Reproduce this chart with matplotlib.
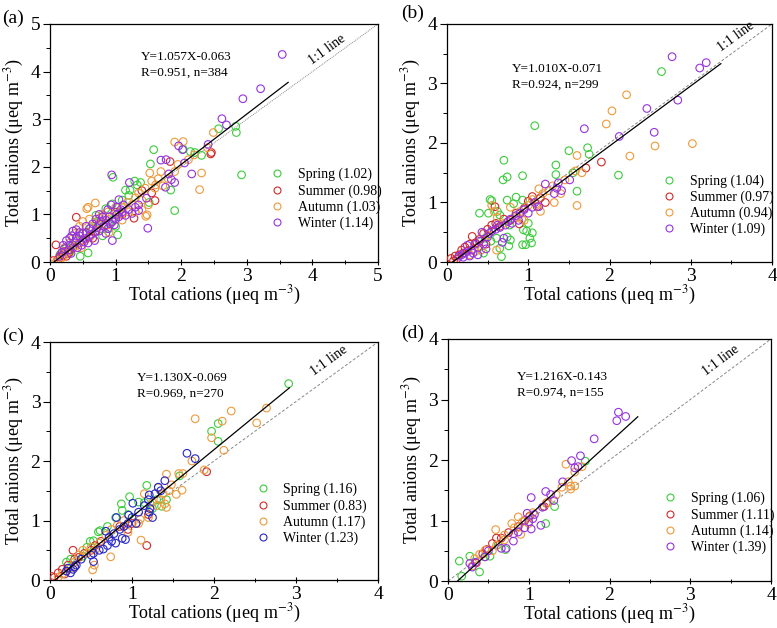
import numpy as np
import matplotlib.pyplot as plt
from matplotlib.lines import Line2D

plt.rcParams['font.family'] = ['Liberation Serif', 'DejaVu Serif']
plt.rcParams['mathtext.fontset'] = 'stix'

# ---- data (x = total cations, y = total anions) ----
spring_a = [(2.92, 1.83), (2.83, 2.85), (2.84, 2.72), (2.57, 2.80), (2.31, 2.24), (2.21, 2.30),
            (2.14, 2.32), (2.03, 2.37), (1.58, 2.36), (1.53, 2.06), (1.90, 1.08), (1.84, 1.51),
            (1.51, 1.25), (0.96, 1.78), (1.29, 1.70), (1.38, 1.67), (1.15, 1.51), (1.22, 1.51),
            (1.33, 1.62), (0.58, 0.19), (0.46, 0.12), (1.03, 0.57), (0.70, 0.98), (0.85, 1.12),
            (0.95, 1.22), (1.05, 1.05), (1.10, 1.30), (0.62, 0.72), (0.40, 0.45), (0.25, 0.30),
            (0.30, 0.20), (0.80, 0.55), (0.90, 0.70), (1.00, 0.75), (0.50, 0.60), (0.72, 0.85),
            (0.35, 0.35), (0.15, 0.15), (1.20, 1.40), (0.97, 0.90)]
summer_a = [(2.46, 2.30), (2.45, 2.27), (1.83, 2.11), (1.60, 1.29), (1.28, 0.92), (0.40, 0.94),
            (0.09, 0.36), (0.15, 0.10), (0.20, 0.15), (0.25, 0.12), (0.30, 0.25), (0.12, 0.05),
            (0.22, 0.22), (0.35, 0.30), (0.50, 0.45), (0.55, 0.62), (0.60, 0.52), (0.70, 0.65),
            (0.75, 0.80), (0.85, 0.78), (1.00, 1.05), (1.10, 1.00), (0.18, 0.20), (0.05, 0.03),
            (0.28, 0.18), (1.40, 1.50), (1.55, 1.45), (0.65, 0.50), (0.45, 0.40), (0.80, 0.95)]
autumn_a = [(2.49, 2.72), (2.03, 2.53), (1.90, 2.52), (2.11, 2.15), (2.31, 1.87), (2.28, 1.52),
            (1.90, 1.90), (1.69, 1.90), (1.52, 1.87), (1.61, 1.62), (1.48, 0.99), (1.46, 0.96),
            (0.69, 1.24), (0.56, 1.12), (0.84, 0.96), (0.58, 1.15), (0.50, 0.85), (0.45, 0.75),
            (0.60, 0.90), (0.65, 0.70), (0.70, 0.80), (0.75, 0.92), (0.80, 1.00), (0.88, 1.05),
            (0.95, 0.85), (1.05, 1.00), (1.12, 1.15), (1.18, 1.25), (1.25, 1.20), (1.30, 1.35),
            (1.35, 1.45), (1.40, 1.30), (1.45, 1.55), (1.55, 1.70), (1.60, 1.55), (1.65, 1.75),
            (1.72, 1.60), (1.80, 1.75), (1.40, 1.10), (1.20, 1.05), (1.00, 1.15), (0.35, 0.50),
            (0.30, 0.40), (0.40, 0.35), (0.25, 0.20), (0.20, 0.10), (0.15, 0.05), (0.10, 0.02),
            (0.55, 0.48), (0.62, 0.55), (0.90, 0.62), (1.10, 0.88), (1.30, 1.05), (0.48, 0.30),
            (0.38, 0.60), (1.95, 2.05), (2.20, 2.25), (2.40, 2.40), (0.22, 0.30), (1.50, 1.20)]
winter_a = [(3.54, 4.36), (3.21, 3.64), (2.94, 3.43), (2.62, 3.01), (2.69, 2.88), (2.41, 2.47),
            (1.96, 2.44), (2.02, 2.36), (2.05, 2.08), (2.16, 1.85), (1.90, 1.67), (1.85, 1.73),
            (1.77, 2.15), (1.69, 2.14), (1.81, 1.85), (1.76, 1.57), (0.94, 1.83), (1.21, 1.67),
            (1.05, 1.31), (1.47, 1.34), (1.49, 0.71), (1.35, 1.08), (0.95, 0.45),
            (0.35, 0.65), (0.40, 0.68), (0.33, 0.55), (0.45, 0.55), (0.50, 0.60), (0.55, 0.50),
            (0.52, 0.42), (0.48, 0.35), (0.42, 0.30), (0.38, 0.40), (0.30, 0.35), (0.25, 0.45),
            (0.22, 0.28), (0.18, 0.20), (0.28, 0.25), (0.32, 0.18), (0.15, 0.12), (0.60, 0.70),
            (0.65, 0.80), (0.68, 0.62), (0.72, 0.72), (0.75, 0.65), (0.78, 0.85), (0.82, 0.75),
            (0.85, 0.88), (0.88, 0.70), (0.90, 0.95), (0.92, 0.80), (0.95, 0.85), (0.98, 0.78),
            (1.00, 0.90), (1.02, 1.00), (1.05, 0.95), (1.08, 1.10), (1.10, 1.05), (1.15, 0.98),
            (1.20, 1.10), (1.25, 1.02), (1.30, 1.15), (1.35, 1.20), (0.70, 0.90), (0.62, 0.58),
            (0.58, 0.40), (0.80, 0.95), (0.88, 1.10), (0.75, 1.00), (0.55, 0.75), (0.45, 0.62),
            (1.12, 1.20), (1.02, 1.15), (0.93, 1.20), (0.85, 0.60), (0.68, 0.45), (0.40, 0.50),
            (0.20, 0.35), (0.30, 0.50)]

spring_b = [(2.64, 3.20), (1.08, 2.29), (0.70, 1.71), (0.74, 1.43), (0.69, 1.38), (0.93, 1.45),
            (2.11, 1.46), (1.50, 1.87), (1.73, 1.92), (1.75, 1.81), (1.34, 1.63), (1.34, 1.47),
            (1.55, 1.50), (1.60, 1.19), (0.51, 0.82), (0.40, 0.82), (0.53, 1.05), (0.55, 1.03),
            (0.85, 1.09), (0.74, 1.04), (0.93, 1.04), (0.65, 0.79), (0.98, 0.52), (0.94, 0.54),
            (1.05, 0.49), (1.02, 0.40), (0.93, 0.29), (0.97, 0.29), (1.04, 0.32), (0.76, 0.27),
            (0.78, 0.37), (0.65, 0.23), (0.67, 0.09), (0.61, 0.40), (0.74, 0.42), (0.47, 0.40),
            (0.54, 0.35), (0.82, 0.98), (0.62, 0.85), (1.00, 0.65), (0.45, 0.15), (0.77, 0.62)]
summer_b = [(1.90, 1.68), (1.71, 1.58), (1.21, 1.00), (0.59, 0.93), (0.31, 0.43), (0.89, 0.64),
            (1.11, 0.93), (0.05, 0.06), (0.08, 0.02), (0.10, 0.10), (0.12, 0.05), (0.15, 0.12),
            (0.18, 0.20), (0.20, 0.15), (0.22, 0.25), (0.25, 0.18), (0.28, 0.30), (0.35, 0.32),
            (0.40, 0.38), (0.45, 0.48), (0.50, 0.55), (0.55, 0.62), (0.60, 0.65), (0.65, 0.60),
            (0.70, 0.72), (0.78, 0.70), (0.85, 0.82), (0.95, 0.90), (1.00, 1.02), (1.05, 1.10),
            (1.15, 1.08), (0.48, 0.30), (0.38, 0.25)]
autumn_b = [(2.21, 2.81), (2.03, 2.54), (1.96, 2.32), (1.60, 1.79), (2.25, 1.78), (2.56, 1.95),
            (3.02, 1.99), (1.60, 0.95), (1.32, 1.00), (1.66, 1.50), (1.58, 1.53), (1.45, 1.38),
            (1.13, 1.23), (1.15, 0.85), (0.61, 0.20), (0.58, 0.85), (0.62, 0.75), (0.78, 0.92),
            (0.85, 0.75), (0.90, 0.85), (0.95, 0.70), (1.00, 0.95), (1.05, 1.05), (1.10, 0.98),
            (1.18, 1.15), (1.25, 1.20), (1.30, 1.28), (1.40, 1.15), (0.70, 0.65), (0.50, 0.45),
            (0.42, 0.20), (0.35, 0.18), (0.28, 0.12), (0.55, 0.95), (0.92, 0.72)]
winter_b = [(2.77, 3.45), (3.11, 3.26), (3.19, 3.35), (2.84, 2.72), (2.46, 2.58), (2.55, 2.18),
            (2.12, 2.11), (1.69, 2.24), (1.51, 1.38), (1.21, 1.31), (1.32, 1.15), (1.35, 1.24),
            (1.37, 1.33), (1.41, 1.20), (1.13, 0.93), (0.15, 0.10), (0.18, 0.12), (0.20, 0.08),
            (0.22, 0.15), (0.25, 0.28), (0.28, 0.10), (0.30, 0.20), (0.32, 0.15), (0.35, 0.30),
            (0.38, 0.12), (0.40, 0.35), (0.43, 0.50), (0.45, 0.30), (0.48, 0.22), (0.50, 0.42),
            (0.52, 0.48), (0.55, 0.52), (0.60, 0.55), (0.65, 0.58), (0.68, 0.33), (0.70, 0.40),
            (0.72, 0.62), (0.75, 0.68), (0.78, 0.72), (0.80, 0.65), (0.85, 0.78), (0.90, 0.82),
            (0.95, 0.88), (1.00, 0.82), (1.05, 0.92), (1.08, 1.00), (0.88, 0.70), (0.62, 0.62)]

spring_c = [(2.91, 3.30), (2.05, 2.63), (1.97, 2.50), (2.05, 2.33), (1.58, 1.75), (1.18, 1.59),
            (0.97, 1.40), (0.87, 1.28), (0.88, 1.17), (1.08, 1.31), (0.61, 0.83), (0.59, 0.81),
            (0.49, 0.65), (0.53, 0.66), (1.42, 1.35), (1.36, 1.24), (1.25, 1.20), (1.30, 1.35),
            (0.80, 1.05), (0.70, 0.90), (0.45, 0.55), (0.25, 0.35), (0.20, 0.30), (1.15, 1.30),
            (0.95, 1.10), (0.40, 0.40)]
summer_c = [(1.91, 1.82), (1.18, 0.58), (0.28, 0.50), (0.02, 0.06), (0.05, 0.04), (0.10, 0.12),
            (0.15, 0.18), (0.18, 0.10), (0.22, 0.25), (0.30, 0.22), (0.35, 0.38), (0.42, 0.45),
            (0.50, 0.50), (0.55, 0.58), (0.95, 0.85), (1.00, 0.95), (1.20, 1.10), (0.62, 0.65),
            (0.30, 0.35), (0.85, 0.90)]
autumn_c = [(2.64, 2.89), (2.21, 2.84), (1.77, 2.71), (2.10, 2.67), (2.52, 2.64), (1.97, 2.39),
            (2.12, 2.18), (1.73, 2.00), (1.88, 1.85), (1.42, 1.78), (1.57, 1.79), (1.62, 1.79),
            (1.61, 1.51), (1.54, 1.44), (1.11, 0.67), (0.74, 0.39), (0.52, 0.17), (0.54, 0.25),
            (1.08, 0.95), (0.40, 0.50), (0.45, 0.45), (0.50, 0.55), (0.55, 0.50), (0.60, 0.62),
            (0.68, 0.75), (0.75, 0.85), (0.82, 0.92), (0.90, 1.00), (0.95, 0.80), (1.05, 0.95),
            (1.10, 1.02), (1.20, 1.05), (1.25, 1.30), (1.30, 1.25), (1.35, 1.35), (1.40, 1.28),
            (1.45, 1.50), (1.38, 1.45), (1.48, 1.60), (1.15, 1.45), (1.32, 1.55), (0.30, 0.30),
            (0.25, 0.20), (0.15, 0.10), (0.10, 0.05), (0.35, 0.42), (0.20, 0.15), (1.42, 1.22)]
winter_c = [(1.67, 2.13), (1.77, 2.04), (1.40, 1.67), (1.32, 1.56), (1.21, 1.43), (1.01, 1.29),
            (1.08, 1.14), (1.21, 1.14), (1.25, 1.05), (0.81, 1.05), (0.96, 1.09), (0.53, 0.45),
            (0.53, 0.31), (0.20, 0.15), (0.22, 0.20), (0.25, 0.12), (0.28, 0.18), (0.30, 0.22),
            (0.32, 0.25), (0.38, 0.35), (0.50, 0.42), (0.60, 0.50), (0.65, 0.52), (0.70, 0.58),
            (0.72, 0.72), (0.75, 0.65), (0.78, 0.78), (0.80, 0.62), (0.85, 0.85), (0.88, 0.70),
            (0.90, 0.90), (0.92, 0.68), (0.95, 0.95), (1.00, 1.05), (1.05, 0.95), (1.15, 1.25),
            (1.20, 1.35), (1.28, 1.45), (1.35, 1.50), (1.22, 1.20), (0.68, 0.82)]

spring_d = [(1.70, 1.98), (1.32, 1.23), (1.21, 0.95), (0.39, 0.15), (0.17, 0.08), (0.14, 0.33),
            (0.27, 0.41), (0.52, 0.41), (0.71, 0.52), (0.62, 0.60), (0.45, 0.40)]
summer_d = [(1.19, 1.23), (1.22, 1.29), (1.01, 1.07), (0.87, 0.90), (0.60, 0.71), (0.66, 0.71),
            (0.55, 0.62), (0.48, 0.52), (0.43, 0.45), (0.95, 1.00), (0.75, 0.80), (0.35, 0.30)]
autumn_d = [(1.46, 1.93), (1.66, 1.89), (1.57, 1.80), (1.57, 1.57), (1.52, 1.57), (1.52, 1.52),
            (1.41, 1.55), (1.49, 1.64), (1.34, 1.43), (1.24, 1.31), (1.22, 1.28), (1.05, 1.13),
            (0.87, 1.06), (0.79, 0.95), (0.59, 0.85), (0.90, 0.77), (0.70, 0.76), (0.60, 0.59),
            (0.46, 0.51), (0.39, 0.44), (0.33, 0.37), (0.92, 0.98), (0.70, 0.68), (0.55, 0.50),
            (0.30, 0.25), (0.82, 0.88), (1.00, 0.95)]
winter_d = [(2.11, 2.79), (2.09, 2.65), (2.20, 2.72), (1.81, 2.35), (1.64, 2.07), (1.53, 1.99),
            (1.57, 1.87), (1.61, 1.89), (1.42, 1.64), (1.21, 1.48), (1.27, 1.43), (1.03, 1.38),
            (1.31, 1.33), (1.17, 1.22), (1.15, 0.92), (1.07, 1.10), (1.05, 1.03), (0.98, 1.12),
            (1.00, 0.98), (1.03, 0.86), (0.95, 0.88), (0.87, 0.81), (0.81, 0.78), (0.81, 0.66),
            (0.72, 0.54), (0.66, 0.54), (0.50, 0.50), (0.46, 0.40), (0.34, 0.31), (0.30, 0.23),
            (0.27, 0.29)]

panel_labels = ['(a)', '(b)', '(c)', '(d)']
axis_max = [5, 4, 4, 4]
fit_slope = [1.057, 1.010, 1.130, 1.216]
fit_intercept = [-0.063, -0.071, -0.069, -0.143]
fit_xmax = [3.63, 3.37, 2.92, 2.35]
fit_r = [0.951, 0.924, 0.969, 0.974]
fit_n = [384, 299, 270, 155]
ratio_labels = [
    ['Spring (1.02)', 'Summer (0.98)', 'Autumn (1.03)', 'Winter (1.14)'],
    ['Spring (1.04)', 'Summer (0.97)', 'Autumn (0.94)', 'Winter (1.09)'],
    ['Spring (1.16)', 'Summer (0.83)', 'Autumn (1.17)', 'Winter (1.23)'],
    ['Spring (1.06)', 'Summer (1.11)', 'Autumn (1.14)', 'Winter (1.39)'],
]
season_data = [
    [spring_a, summer_a, autumn_a, winter_a],
    [spring_b, summer_b, autumn_b, winter_b],
    [spring_c, summer_c, autumn_c, winter_c],
    [spring_d, summer_d, autumn_d, winter_d],
]

green, red, orange, purple, blue = '#3ccc3c', '#d02a2a', '#ee9a3a', '#9533e0', '#2626c8'
season_colors = [
    [green, red, orange, purple],
    [green, red, orange, purple],
    [green, red, orange, blue],
    [green, red, orange, purple],
]

# layout (figure fractions), legend anchor, equation position, "1:1 line" position
ax_rects = [[0.0644, 0.5828, 0.4221, 0.379],
            [0.5753, 0.5828, 0.4183, 0.379],
            [0.0644, 0.0764, 0.4221, 0.379],
            [0.5766, 0.0748, 0.4157, 0.3854]]
legend_anchor = [(0.655, 0.265), (0.645, 0.238), (0.61, 0.277), (0.65, 0.24)]
eq_pos = [(0.277, 0.86), (0.20, 0.81), (0.265, 0.849), (0.214, 0.843)]
one_pos = [(4.22, 4.45), (3.56, 3.78), (3.40, 3.68), (3.38, 3.65)]
label_pos = [(0.003, 0.985), (0.516, 0.992), (0.003, 0.478), (0.516, 0.483)]

fig = plt.figure(figsize=(7.77, 6.28), dpi=100)

for i in range(4):
    ax = fig.add_axes(ax_rects[i])
    m = axis_max[i]

    for pts, col in zip(season_data[i], season_colors[i]):
        arr = np.array(pts)
        ax.scatter(arr[:, 0], arr[:, 1], s=30, facecolors='none', edgecolors=col,
                   linewidths=0.8, zorder=3)

    # 1:1 line
    one_style = (0, (1, 1)) if i == 0 else (0, (3, 2))
    ax.plot([0, m], [0, m], color='#888888', lw=0.7, ls=one_style, zorder=2)

    # regression line
    x0 = -fit_intercept[i] / fit_slope[i]
    xs = np.array([x0, fit_xmax[i]])
    ax.plot(xs, fit_slope[i] * xs + fit_intercept[i], color='black', lw=0.9, zorder=4)

    ax.set_xlim(0, m)
    ax.set_ylim(0, m)
    ax.set_xticks(range(m + 1))
    ax.set_yticks(range(m + 1))
    ax.set_xticks(np.arange(0.5, m, 1), minor=True)
    ax.set_yticks(np.arange(0.5, m, 1), minor=True)
    ax.tick_params(which='major', direction='inout', length=5, width=0.8, labelsize=14,
                   top=False, right=False, pad=2)
    ax.tick_params(which='minor', direction='inout', length=3, width=0.7, top=False, right=False)
    ax.tick_params(axis='y', which='both', direction='out')
    for sp in ax.spines.values():
        sp.set_linewidth(0.9)

    ax.set_xlabel('Total cations (\u03bceq m$^{-3}$)', fontsize=13, labelpad=-1)
    ax.set_ylabel('Total anions (\u03bceq m$^{-3}$)', fontsize=13, labelpad=3)

    ax.text(eq_pos[i][0], eq_pos[i][1], f'Y={fit_slope[i]:.3f}X{fit_intercept[i]:.3f}',
            transform=ax.transAxes, fontsize=9.5, va='center')
    ax.text(eq_pos[i][0], eq_pos[i][1] - 0.066, f'R={fit_r[i]:.3f}, n={fit_n[i]}',
            transform=ax.transAxes, fontsize=9.5, va='center')

    ang = np.degrees(np.arctan((ax_rects[i][3] * 6.28) / (ax_rects[i][2] * 7.77)))
    ax.text(one_pos[i][0], one_pos[i][1], '1:1 line', fontsize=10, rotation=ang,
            ha='center', va='center', rotation_mode='anchor')

    handles = [Line2D([], [], ls='none', marker='o', markersize=5, markerfacecolor='none',
                      markeredgecolor=c, markeredgewidth=0.8) for c in season_colors[i]]
    ax.legend(handles, ratio_labels[i], loc='center left', bbox_to_anchor=legend_anchor[i],
              frameon=False, fontsize=10, handlelength=1.0, handletextpad=1.0,
              labelspacing=0.2, borderaxespad=0)

    fig.text(label_pos[i][0], label_pos[i][1], panel_labels[i], fontsize=14, va='top')

fig.savefig('out.png', dpi=100)
